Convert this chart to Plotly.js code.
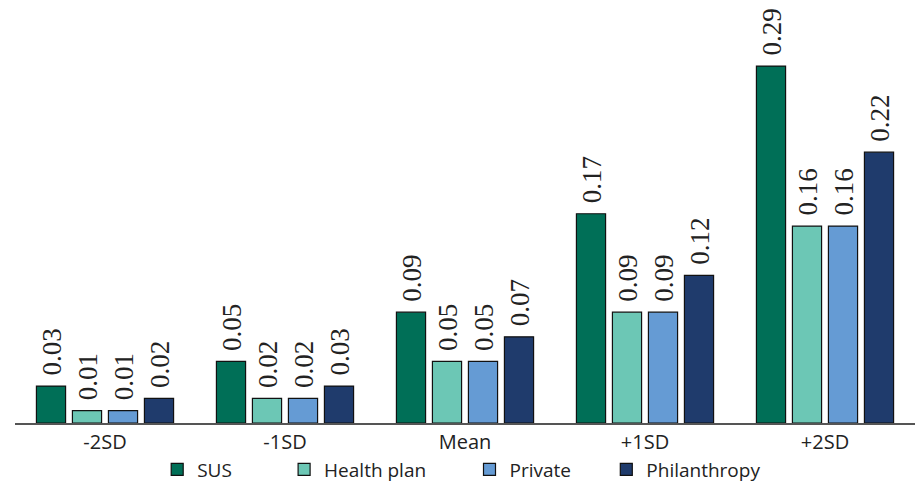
<!DOCTYPE html>
<html>
<head>
<meta charset="utf-8">
<script src="https://cdn.plot.ly/plotly-3.0.1.min.js"></script>
<style>html,body{margin:0;padding:0;background:#fff;}#chart{width:916px;height:484px;}</style>
</head>
<body>
<div id="chart"></div>
<script>
const categories = ["-2SD", "-1SD", "Mean", "+1SD", "+2SD"];
const seriesNames = ["SUS", "Health plan", "Private", "Philanthropy"];
const sus = [0.03, 0.05, 0.09, 0.17, 0.29];
const healthPlan = [0.01, 0.02, 0.05, 0.09, 0.16];
const privateCare = [0.01, 0.02, 0.05, 0.09, 0.16];
const philanthropy = [0.02, 0.03, 0.07, 0.12, 0.22];
const colors = ["#006f57", "#6cc7b5", "#659bd4", "#1f3b6c"];

const values = [sus, healthPlan, privateCare, philanthropy];
const legendIds = ["legend", "legend2", "legend3", "legend4"];
const legendX = [0.158, 0.299, 0.505, 0.657];
const BARGAP = 0.2;

const traces = values.map((v, i) => ({
  type: "bar",
  name: seriesNames[i],
  legend: legendIds[i],
  x: categories,
  y: v,
  cliponaxis: false,
  marker: {color: colors[i], line: {color: "#111", width: 1.2}},
  hoverinfo: "x+y+name"
}));

// value labels above each bar, placed at the group slot centres
const slot = (1 - BARGAP) / values.length;
const annotations = [];
values.forEach((v, i) => {
  v.forEach((d, j) => {
    annotations.push({
      x: j + (i - (values.length - 1) / 2) * slot,
      y: d, xref: "x", yref: "y",
      text: d.toFixed(2), showarrow: false, textangle: -90,
      xanchor: "center", yanchor: "bottom", yshift: 8, xshift: 1,
      font: {family: "Liberation Serif, serif", size: 27, color: "#222"}
    });
  });
});

const layout = {
  width: 916, height: 484,
  margin: {l: 15, r: 1, t: 5, b: 61},
  paper_bgcolor: "#fff", plot_bgcolor: "#fff",
  barmode: "group",
  bargap: BARGAP,
  bargroupgap: 0.19,
  font: {family: "Open Sans, sans-serif", size: 19, color: "#222"},
  xaxis: {
    showline: true, linecolor: "#555", linewidth: 1.5,
    ticks: "", showgrid: false, zeroline: false, automargin: false,
    tickfont: {size: 20, color: "#222"}
  },
  yaxis: {
    range: [0, 0.3396], visible: false, showgrid: false, zeroline: false
  },
  annotations: annotations,
  showlegend: true
};
legendIds.forEach((id, i) => {
  layout[id] = {
    orientation: "h", x: legendX[i], xanchor: "left",
    yref: "container", y: 0.03, yanchor: "middle",
    font: {size: 19, color: "#222"}, itemwidth: 30, bgcolor: "rgba(0,0,0,0)"
  };
});

Plotly.newPlot("chart", traces, layout, {displayModeBar: false, staticPlot: true});
</script>
</body>
</html>
